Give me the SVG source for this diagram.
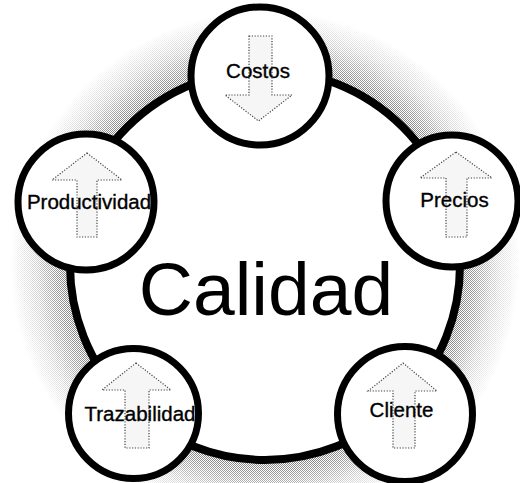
<svg xmlns="http://www.w3.org/2000/svg" width="520" height="483" viewBox="0 0 520 483">
  <style>
    .ring { fill: #ffffff; stroke: #000000; stroke-width: 7; }
    .big { fill: #ffffff; stroke: #000000; stroke-width: 8; }
    .arrow { fill: #f6f6f6; stroke: #444444; stroke-width: 1.2; stroke-dasharray: 1.2 1.6; }
    .lbl { font-family: "Liberation Sans", Arial, sans-serif; font-size: 20.5px; fill: #000000; stroke: #000000; stroke-width: 0.35; text-anchor: middle; }
    .title { font-family: "Liberation Sans", Arial, sans-serif; font-size: 75px; fill: #000000; text-anchor: middle; }
  </style>
  <defs>
    <pattern id="dots" width="2" height="2" patternUnits="userSpaceOnUse">
      <rect x="0" y="0" width="1" height="1" fill="#000000"/>
      <rect x="1" y="1" width="1" height="1" fill="#000000"/>
    </pattern>
    <radialGradient id="fade" cx="265" cy="265" r="255" gradientUnits="userSpaceOnUse">
      <stop offset="0.75" stop-color="#ffffff" stop-opacity="0.8"/>
      <stop offset="0.81" stop-color="#ffffff" stop-opacity="0.6"/>
      <stop offset="0.90" stop-color="#ffffff" stop-opacity="0.25"/>
      <stop offset="1" stop-color="#ffffff" stop-opacity="0"/>
    </radialGradient>
    <mask id="haloMask" maskUnits="userSpaceOnUse" x="0" y="0" width="520" height="483">
      <circle cx="265" cy="265" r="255" fill="url(#fade)"/>
    </mask>
  </defs>
  <rect x="0" y="0" width="520" height="483" fill="#ffffff"/>
  <g id="halo">
    <circle cx="265" cy="265" r="255" fill="url(#dots)" mask="url(#haloMask)" opacity="0.7"/>
  </g>
  <g id="calidad">
    <circle class="big" cx="265" cy="265" r="195"/>
    <text class="title" x="266" y="315">Calidad</text>
  </g>
  <g id="connectors"></g>
  <g id="costos">
    <circle class="ring" cx="260" cy="76" r="69"/>
    <path class="arrow" d="M249,36 H272 V95 H292 L258.5,121 L225,95 H249 Z"/>
    <text class="lbl" x="258" y="78">Costos</text>
  </g>
  <g id="productividad">
    <circle class="ring" cx="86" cy="202" r="68"/>
    <path class="arrow" d="M87,153 L122,180 H97 V237 H77 V180 H52 Z"/>
    <text class="lbl" x="89" y="209">Productividad</text>
  </g>
  <g id="precios">
    <circle class="ring" cx="452" cy="201" r="66"/>
    <path class="arrow" d="M456,152 L492,178 H467 V237 H446 V178 H420 Z"/>
    <text class="lbl" x="454.5" y="207">Precios</text>
  </g>
  <g id="trazabilidad">
    <circle class="ring" cx="133.5" cy="413.5" r="65"/>
    <path class="arrow" d="M136,363 L171,390 H149 V448 H125 V390 H102 Z"/>
    <text class="lbl" x="140" y="421">Trazabilidad</text>
  </g>
  <g id="cliente">
    <circle class="ring" cx="405" cy="414" r="67.5"/>
    <path class="arrow" d="M403,363 L437,391 H415 V448 H393 V391 H368 Z"/>
    <text class="lbl" x="401.5" y="417">Cliente</text>
  </g>
</svg>
